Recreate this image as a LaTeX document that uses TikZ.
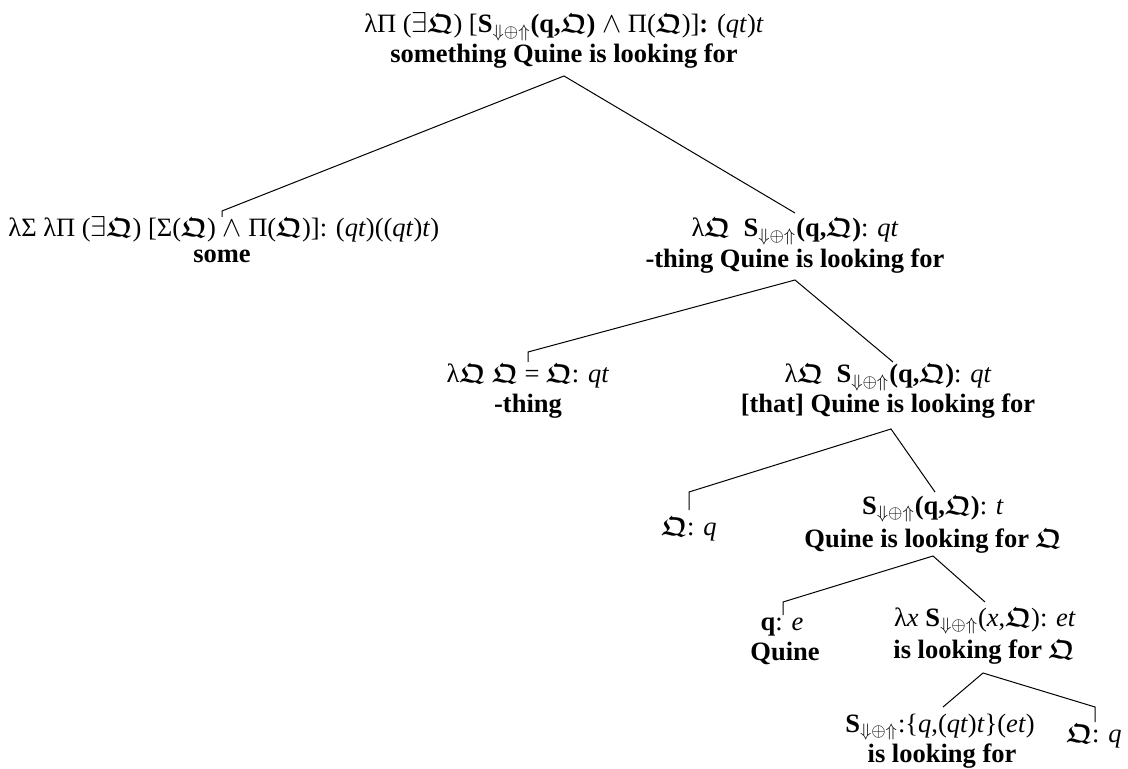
\documentclass[tikz,border=0pt]{standalone}
\usepackage{amsmath,amssymb}
\usepackage{fontspec}
\setmainfont{Liberation Serif}
\newcommand{\QQ}{\ensuremath{\boldsymbol{\mathfrak{Q}}}}
\newcommand{\Sdn}{\textbf{S}\ensuremath{_{\Downarrow\oplus\Uparrow}}}
\newcommand{\fsz}{\fontsize{13.25}{15}\selectfont}
\begin{document}
\begin{tikzpicture}[x=0.5pt,y=-0.5pt,
  sem/.style={inner sep=0,anchor=base,font=\fsz},
  phon/.style={inner sep=0,anchor=base,font=\fsz\bfseries},
  edge/.style={line width=0.5pt}]
\useasboundingbox (0,0) rectangle (1128,769);

% root
\node[sem] (a1) at (564,33) {λΠ (\ensuremath{\exists}\QQ) [\Sdn\textbf{(q,}\QQ\textbf{)} \ensuremath{\wedge} Π(\QQ)]\textbf{:} (\textit{qt})\textit{t}};
\node[phon] (a2) at (564,63) {something Quine is looking for};

% determiner
\node[sem,anchor=base west] (b1) at (8,237) {λΣ λΠ (\ensuremath{\exists}\QQ) [Σ(\QQ) \ensuremath{\wedge} Π(\QQ)]: (\textit{qt})((\textit{qt})\textit{t})};
\node[phon] (b2) at (222,263) {some};

% noun phrase
\node[sem] (c1) at (795,237) {λ\QQ\ \ \Sdn\textbf{(q,}\QQ\textbf{)}: \textit{qt}};
\node[phon] (c2) at (795,268) {-thing Quine is looking for};

\node[sem] (d1) at (528,383) {λ\QQ\ \QQ\ = \QQ: \textit{qt}};
\node[phon] (d2) at (528,413) {-thing};

\node[sem] (e1) at (888,383) {λ\QQ\ \ \Sdn\textbf{(q,}\QQ\textbf{)}: \textit{qt}};
\node[phon] (e2) at (888,413) {[that] Quine is looking for};

\node[sem] (f1) at (689,535) {\QQ: \textit{q}};

\node[sem] (g1) at (933,514) {\Sdn\textbf{(q,}\QQ\textbf{)}: \textit{t}};
\node[phon] (g2) at (933,547) {Quine is looking for \QQ};

\node[sem] (h1) at (782,630) {\textbf{q}: \textit{e}};
\node[phon] (h2) at (785,660) {Quine};

\node[sem] (i1) at (985,626) {λ\textit{x} \Sdn(\textit{x},\QQ): \textit{et}};
\node[phon] (i2) at (984,658) {is looking for \QQ};

\node[sem] (j1) at (940,732) {\Sdn:\{\textit{q},(\textit{qt})\textit{t}\}(\textit{et})};
\node[phon] (j2) at (942,762) {is looking for};

\node[sem] (k1) at (1094,742) {\QQ: \textit{q}};

% branch points and attachment points
\coordinate (aSplit) at (564,76);
\coordinate (bTop) at (222,211);  \coordinate (bFoot) at (222,217);
\coordinate (cTop) at (795,213);
\coordinate (cSplit) at (795,280);
\coordinate (dTop) at (528,352);  \coordinate (dFoot) at (528,362);
\coordinate (eTop) at (893,362);
\coordinate (eSplit) at (891,429);
\coordinate (fTop) at (689,492);  \coordinate (fFoot) at (689,510);
\coordinate (gTop) at (935,492);
\coordinate (gSplit) at (933,556);
\coordinate (hTop) at (783,602);  \coordinate (hFoot) at (783,615);
\coordinate (iTop) at (985,602);
\coordinate (iSplit) at (983,673);
\coordinate (jTop) at (943,707);
\coordinate (kTop) at (1095,707); \coordinate (kFoot) at (1095,722);

\draw[edge] (bFoot) -- (bTop) -- (aSplit) -- (cTop);
\draw[edge] (dFoot) -- (dTop) -- (cSplit) -- (eTop);
\draw[edge] (fFoot) -- (fTop) -- (eSplit) -- (gTop);
\draw[edge] (hFoot) -- (hTop) -- (gSplit) -- (iTop);
\draw[edge] (jTop) -- (iSplit) -- (kTop) -- (kFoot);
\end{tikzpicture}
\end{document}
